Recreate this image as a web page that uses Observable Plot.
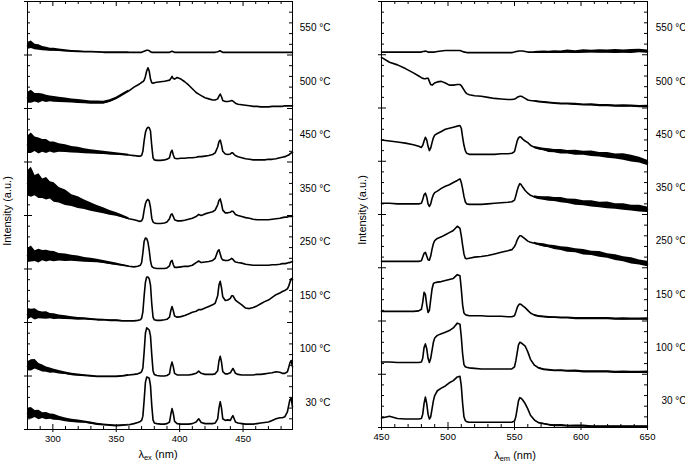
<!DOCTYPE html>
<html><head><meta charset="utf-8">
<script src="https://cdn.jsdelivr.net/npm/d3@7"></script>
<script src="https://cdn.jsdelivr.net/npm/@observablehq/plot@0.6"></script>
<style>
body{margin:0;background:#fff;font-family:"Liberation Sans",Arial,sans-serif;color:#000}
#c{position:relative;width:685px;height:465px;overflow:hidden}
.p{position:absolute;top:0}
.lab{position:absolute;font-size:11px;white-space:nowrap;line-height:1}
.ylab{transform:translate(-50%,-50%) rotate(-90deg)}
.xlab{transform:translate(-50%,-50%)}
sub{font-size:7.5px;vertical-align:-2px}
</style>
</head><body><div id="c"></div>
<script>
// ---- labels ----
const tempLabels = ["30 °C","100 °C","150 °C","250 °C","350 °C","450 °C","500 °C","550 °C"];
// ---- excitation panel (left) ----
const exX = [280,283,286,289,292,295,298,301,305,310,
 315,320,325,330,335,340,345,350,355,360,
 364,367,369,370,371,372,373,374,375,376,
 377,378,379,380,382,385,388,390,392,393,
 394,395,396,398,401,404,407,410,413,415,
 417,420,423,426,428,430,431,432,433,434,
 436,438,440,441,442,443,444,446,449,452,
 455,458,461,464,467,470,473,476,479,481,
 483,485,486,487,488,489];
const exMajor = [300,350,400,450];
const exMinor = [280,290,310,320,330,340,360,370,380,390,410,420,430,440,460,470,480];
const ex30 = [0.30,0.30,0.29,0.27,0.26,0.25,0.24,0.23,0.21,0.18,
 0.16,0.15,0.14,0.12,0.10,0.09,0.08,0.07,0.08,0.09,
 0.11,0.13,0.15,0.17,0.25,0.55,0.88,0.98,0.97,0.96,
 0.82,0.45,0.18,0.12,0.11,0.10,0.10,0.11,0.14,0.28,
 0.39,0.30,0.15,0.11,0.10,0.10,0.10,0.11,0.14,0.20,
 0.13,0.11,0.11,0.11,0.12,0.20,0.40,0.52,0.40,0.20,
 0.17,0.18,0.17,0.22,0.26,0.20,0.14,0.12,0.11,0.10,
 0.10,0.10,0.11,0.12,0.13,0.14,0.17,0.20,0.22,0.22,
 0.24,0.33,0.45,0.56,0.58,0.42];
const ex100 = [0.18,0.20,0.22,0.17,0.14,0.12,0.10,0.09,0.07,0.05,
 0.03,0.02,0.01,0.00,-0.01,-0.01,-0.01,-0.01,0.00,0.02,
 0.03,0.04,0.06,0.08,0.15,0.45,0.80,0.90,0.88,0.86,
 0.75,0.40,0.10,0.03,0.01,0.00,0.00,0.01,0.04,0.18,
 0.26,0.17,0.05,0.02,0.02,0.02,0.02,0.03,0.05,0.09,
 0.05,0.03,0.03,0.03,0.04,0.10,0.28,0.37,0.26,0.08,
 0.04,0.04,0.06,0.10,0.14,0.10,0.05,0.03,0.02,0.02,
 0.02,0.02,0.03,0.03,0.04,0.05,0.06,0.08,0.07,0.05,
 0.05,0.08,0.16,0.25,0.29,0.17];
const ex150 = [0.15,0.17,0.15,0.14,0.13,0.13,0.12,0.11,0.10,0.09,
 0.08,0.07,0.07,0.06,0.05,0.05,0.04,0.04,0.03,0.03,
 0.03,0.04,0.05,0.08,0.20,0.50,0.75,0.85,0.85,0.82,
 0.70,0.35,0.10,0.05,0.04,0.04,0.05,0.06,0.10,0.22,
 0.30,0.22,0.12,0.10,0.11,0.13,0.16,0.19,0.21,0.24,
 0.24,0.27,0.30,0.33,0.36,0.50,0.70,0.77,0.65,0.48,
 0.41,0.42,0.45,0.50,0.50,0.46,0.42,0.38,0.33,0.27,
 0.26,0.28,0.31,0.35,0.39,0.42,0.47,0.52,0.55,0.58,
 0.60,0.63,0.68,0.75,0.82,0.80];
const ex250 = [0.25,0.28,0.24,0.24,0.25,0.24,0.24,0.23,0.22,0.21,
 0.20,0.19,0.17,0.16,0.15,0.13,0.11,0.09,0.07,0.05,
 0.04,0.05,0.07,0.12,0.30,0.52,0.58,0.57,0.50,0.35,
 0.15,0.05,0.03,0.02,0.01,0.01,0.01,0.02,0.06,0.14,
 0.16,0.08,0.03,0.03,0.04,0.05,0.05,0.07,0.12,0.15,
 0.12,0.13,0.14,0.16,0.20,0.33,0.36,0.28,0.20,0.17,
 0.16,0.16,0.18,0.20,0.18,0.15,0.13,0.12,0.11,0.09,
 0.08,0.07,0.07,0.07,0.07,0.07,0.08,0.08,0.09,0.10,
 0.10,0.11,0.12,0.12,0.13,0.14];
const ex350 = [0.60,0.62,0.56,0.55,0.50,0.50,0.47,0.43,0.38,0.33,
 0.28,0.24,0.20,0.16,0.12,0.09,0.05,0.02,-0.02,-0.06,
 -0.08,-0.10,-0.11,-0.10,-0.05,0.10,0.22,0.28,0.30,0.27,
 0.15,-0.05,-0.12,-0.14,-0.15,-0.15,-0.14,-0.12,-0.06,0.01,
 0.03,-0.02,-0.08,-0.10,-0.10,-0.09,-0.07,-0.05,-0.02,0.02,
 0.00,0.03,0.05,0.07,0.10,0.20,0.28,0.31,0.22,0.10,
 0.05,0.05,0.06,0.08,0.08,0.05,0.02,0.00,-0.02,-0.04,
 -0.05,-0.07,-0.08,-0.08,-0.08,-0.08,-0.07,-0.06,-0.05,-0.04,
 -0.03,-0.03,-0.02,-0.02,-0.02,-0.02];
const ex450 = [0.32,0.35,0.33,0.30,0.30,0.29,0.28,0.27,0.26,0.25,
 0.23,0.22,0.20,0.19,0.18,0.17,0.16,0.15,0.14,0.13,
 0.12,0.11,0.11,0.12,0.20,0.40,0.55,0.62,0.65,0.64,
 0.58,0.30,0.08,0.04,0.03,0.03,0.04,0.05,0.08,0.18,
 0.22,0.13,0.07,0.06,0.07,0.07,0.08,0.08,0.09,0.10,
 0.10,0.11,0.12,0.14,0.17,0.28,0.38,0.41,0.32,0.20,
 0.15,0.14,0.15,0.17,0.17,0.14,0.12,0.10,0.08,0.06,
 0.05,0.04,0.04,0.04,0.04,0.05,0.05,0.06,0.08,0.09,
 0.10,0.12,0.13,0.15,0.17,0.18];
const ex500 = [0.20,0.22,0.20,0.19,0.20,0.18,0.18,0.17,0.16,0.15,
 0.14,0.13,0.12,0.11,0.11,0.11,0.14,0.19,0.26,0.33,
 0.40,0.44,0.47,0.49,0.50,0.53,0.60,0.70,0.76,0.70,
 0.55,0.48,0.47,0.48,0.49,0.50,0.51,0.52,0.53,0.56,
 0.60,0.56,0.55,0.58,0.55,0.50,0.44,0.37,0.30,0.27,
 0.24,0.20,0.18,0.16,0.16,0.18,0.23,0.27,0.22,0.15,
 0.13,0.13,0.14,0.15,0.14,0.12,0.10,0.08,0.07,0.06,
 0.05,0.04,0.04,0.03,0.03,0.03,0.04,0.04,0.04,0.04,
 0.05,0.05,0.05,0.05,0.05,0.05];
const ex550 = [0.17,0.19,0.15,0.14,0.12,0.11,0.10,0.10,0.09,0.08,
 0.07,0.065,0.06,0.06,0.055,0.05,0.05,0.05,0.05,0.05,
 0.05,0.05,0.05,0.05,0.06,0.07,0.08,0.09,0.09,0.08,
 0.06,0.05,0.05,0.05,0.05,0.05,0.05,0.05,0.05,0.06,
 0.07,0.06,0.05,0.05,0.05,0.05,0.05,0.05,0.05,0.05,
 0.05,0.05,0.05,0.05,0.05,0.06,0.07,0.08,0.06,0.05,
 0.05,0.05,0.05,0.05,0.05,0.05,0.05,0.05,0.05,0.05,
 0.05,0.05,0.05,0.05,0.05,0.05,0.05,0.05,0.05,0.05,
 0.05,0.05,0.05,0.05,0.05,0.05];
// noise half-widths (280..360 nm, the first 20 points of exX)
const exNoise30  = [0.09,0.11,0.065,0.09,0.055,0.07,0.05,0.055,0.04,0.035,0.03,0.028,0.02,0.02,0.016,0.014,0.012,0.012,0.01,0.008];
const exNoise100 = [0.08,0.105,0.09,0.065,0.065,0.05,0.05,0.036,0.032,0.024,0.02,0.018,0.015,0.012,0.012,0.01,0.01,0.008,0.008,0.008];
const exNoise150 = [0.11,0.08,0.105,0.07,0.065,0.07,0.05,0.052,0.04,0.036,0.028,0.024,0.02,0.016,0.014,0.012,0.01,0.01,0.008,0.008];
const exNoise250 = [0.13,0.15,0.10,0.13,0.095,0.11,0.09,0.095,0.07,0.07,0.055,0.055,0.045,0.04,0.032,0.028,0.024,0.02,0.016,0.012];
const exNoise350 = [0.23,0.28,0.19,0.23,0.18,0.21,0.16,0.18,0.145,0.145,0.11,0.11,0.09,0.08,0.065,0.055,0.045,0.036,0.028,0.02];
const exNoise450 = [0.16,0.19,0.135,0.15,0.12,0.13,0.095,0.105,0.08,0.072,0.06,0.055,0.048,0.04,0.036,0.032,0.028,0.024,0.02,0.016];
const exNoise500 = [0.10,0.12,0.08,0.09,0.07,0.07,0.055,0.055,0.048,0.044,0.036,0.036,0.032,0.028,0.028,0.024,0.024,0.02,0.02,0.016];
const exNoise550 = [0.065,0.07,0.05,0.05,0.04,0.036,0.028,0.028,0.024,0.02,0.016,0.016,0.012,0.012,0.01,0.008,0.008,0.008,0.008,0.008];

// ---- emission panel (right) ----
const emX = [450,456,462,468,474,478,480,481,482,483,
 484,485,486,487,488,489,490,492,495,498,
 501,504,507,509,510,511,512,513,514,516,
 520,525,530,535,540,545,548,550,551,552,
 553,554,555,556,558,560,562,565,568,572,
 576,580,585,590,596,602,608,614,620,626,
 632,638,644,650];
const emMajor = [450,500,550,600,650];
const emMinor = [460,470,480,490,510,520,530,540,560,570,580,590,610,620,630,640];
const em30 = [0.18,0.21,0.17,0.16,0.16,0.16,0.17,0.25,0.45,0.57,
 0.45,0.25,0.16,0.20,0.35,0.50,0.60,0.69,0.74,0.78,
 0.84,0.88,0.95,0.96,0.78,0.45,0.20,0.13,0.11,0.10,
 0.10,0.10,0.10,0.10,0.10,0.10,0.10,0.12,0.20,0.35,
 0.50,0.56,0.55,0.52,0.45,0.35,0.23,0.14,0.09,0.07,
 0.05,0.04,0.04,0.03,0.03,0.03,0.02,0.02,0.02,0.02,
 0.02,0.02,0.02,0.02];
const em100 = [0.23,0.23,0.22,0.22,0.22,0.22,0.23,0.30,0.50,0.57,
 0.48,0.30,0.22,0.30,0.45,0.60,0.68,0.73,0.76,0.79,
 0.82,0.87,0.96,0.94,0.70,0.38,0.18,0.14,0.13,0.12,
 0.11,0.10,0.10,0.10,0.10,0.10,0.10,0.14,0.25,0.40,
 0.55,0.60,0.59,0.57,0.53,0.42,0.28,0.17,0.12,0.09,
 0.08,0.07,0.07,0.06,0.06,0.05,0.05,0.05,0.05,0.04,
 0.04,0.04,0.04,0.04];
const em150 = [0.18,0.18,0.18,0.18,0.18,0.19,0.22,0.35,0.54,0.50,
 0.30,0.16,0.20,0.40,0.60,0.70,0.72,0.73,0.74,0.76,
 0.78,0.80,0.87,0.85,0.60,0.30,0.15,0.12,0.11,0.10,
 0.10,0.10,0.09,0.09,0.09,0.08,0.08,0.10,0.17,0.25,
 0.30,0.32,0.31,0.29,0.25,0.20,0.15,0.11,0.09,0.08,
 0.07,0.07,0.06,0.06,0.05,0.05,0.05,0.05,0.05,0.04,
 0.04,0.04,0.04,0.04];
const em250 = [0.12,0.12,0.12,0.12,0.12,0.12,0.13,0.20,0.27,0.29,
 0.22,0.15,0.14,0.22,0.35,0.45,0.51,0.55,0.58,0.62,
 0.66,0.70,0.78,0.74,0.60,0.42,0.26,0.18,0.17,0.18,
 0.20,0.21,0.23,0.26,0.29,0.32,0.34,0.40,0.45,0.52,
 0.57,0.60,0.60,0.58,0.54,0.50,0.48,0.46,0.44,0.42,
 0.40,0.38,0.36,0.34,0.32,0.29,0.27,0.25,0.22,0.19,
 0.16,0.13,0.10,0.07];
const em350 = [0.21,0.21,0.20,0.20,0.20,0.20,0.21,0.28,0.37,0.40,
 0.33,0.20,0.15,0.20,0.30,0.37,0.41,0.44,0.49,0.53,
 0.56,0.60,0.64,0.67,0.60,0.48,0.34,0.24,0.20,0.19,
 0.19,0.19,0.20,0.21,0.22,0.23,0.24,0.27,0.35,0.45,
 0.53,0.58,0.56,0.52,0.45,0.40,0.36,0.33,0.31,0.30,
 0.29,0.28,0.27,0.25,0.23,0.21,0.20,0.18,0.17,0.15,
 0.14,0.12,0.11,0.09];
const em450 = [0.40,0.38,0.36,0.34,0.31,0.28,0.26,0.30,0.38,0.45,
 0.40,0.28,0.20,0.25,0.35,0.44,0.49,0.52,0.56,0.60,
 0.62,0.64,0.66,0.67,0.62,0.45,0.30,0.20,0.15,0.13,
 0.13,0.13,0.13,0.13,0.14,0.14,0.15,0.18,0.28,0.38,
 0.44,0.46,0.45,0.42,0.38,0.35,0.30,0.26,0.24,0.22,
 0.20,0.19,0.18,0.17,0.16,0.15,0.14,0.12,0.11,0.09,
 0.08,0.05,0.02,-0.03];
const em500 = [0.95,0.86,0.81,0.74,0.66,0.60,0.57,0.56,0.55,0.55,
 0.56,0.56,0.50,0.44,0.43,0.45,0.47,0.49,0.50,0.47,
 0.43,0.43,0.44,0.44,0.42,0.38,0.34,0.30,0.27,0.25,
 0.23,0.22,0.20,0.18,0.17,0.16,0.16,0.17,0.18,0.20,
 0.21,0.22,0.22,0.21,0.18,0.15,0.14,0.13,0.12,0.11,
 0.10,0.09,0.08,0.08,0.07,0.06,0.06,0.05,0.05,0.04,
 0.04,0.04,0.03,0.03];
const em550 = [0.05,0.05,0.05,0.05,0.05,0.05,0.05,0.06,0.06,0.07,
 0.06,0.05,0.05,0.05,0.05,0.05,0.05,0.06,0.07,0.08,
 0.08,0.08,0.08,0.08,0.07,0.06,0.05,0.05,0.04,0.04,
 0.04,0.04,0.04,0.04,0.04,0.04,0.04,0.05,0.06,0.06,
 0.07,0.07,0.07,0.07,0.06,0.05,0.05,0.05,0.05,0.05,
 0.05,0.05,0.05,0.06,0.05,0.06,0.06,0.06,0.06,0.06,
 0.06,0.06,0.07,0.06];
// noise half-widths from 565 nm to 650 nm (last 17 points of emX)
const emNoiseStart = 565;
const emNoise30  = [0.01,0.01,0.012,0.012,0.012,0.015,0.012,0.015,0.015,0.012,0.015,0.015,0.012,0.015,0.015,0.012,0.015];
const emNoise100 = [0.01,0.012,0.012,0.015,0.012,0.015,0.015,0.018,0.015,0.018,0.015,0.018,0.015,0.02,0.015,0.018,0.02];
const emNoise150 = [0.01,0.012,0.012,0.015,0.012,0.015,0.015,0.018,0.015,0.018,0.015,0.018,0.015,0.02,0.015,0.018,0.02];
const emNoise250 = [0.017,0.021,0.03,0.025,0.038,0.034,0.047,0.038,0.051,0.042,0.055,0.042,0.055,0.047,0.06,0.047,0.051];
const emNoise350 = [0.021,0.03,0.034,0.042,0.038,0.051,0.042,0.055,0.047,0.06,0.051,0.064,0.051,0.06,0.055,0.064,0.051];
const emNoise450 = [0.017,0.025,0.025,0.034,0.03,0.042,0.034,0.047,0.038,0.051,0.042,0.055,0.047,0.06,0.064,0.055,0.051];
const emNoise500 = [0.01,0.012,0.012,0.015,0.012,0.015,0.015,0.018,0.015,0.018,0.015,0.018,0.015,0.02,0.015,0.018,0.02];
const emNoise550 = [0.013,0.017,0.021,0.017,0.025,0.021,0.03,0.025,0.034,0.025,0.034,0.03,0.038,0.03,0.038,0.034,0.03];

const H = 465;
function panel(cfg) {
  const {x, series, noise, noiseFrom, domain, major, minor, width, ml, mr, mt, mb, labelDx} = cfg;
  const innerH = H - mt - mb, innerW = width - ml - mr;
  const start = x.indexOf(noiseFrom);
  const lineRows = [], areaRows = [];
  series.forEach((vals, i) => {
    if (vals.length !== x.length) throw new Error("length mismatch in series " + i + ": " + vals.length);
    vals.forEach((v, j) => lineRows.push({x: x[j], y: i + v, k: i}));
    noise[i].forEach((w, j) => {
      const v = vals[start + j];
      areaRows.push({x: x[start + j], y1: i + v - w, y2: i + v + w, k: i});
    });
  });
  const yMajor = d3.range(0, 9);
  const yMinor = d3.range(0, 40).map(d => d / 5).filter(d => d % 1 !== 0);
  return Plot.plot({
    width, height: H, marginTop: mt, marginBottom: mb, marginLeft: ml, marginRight: mr,
    x: {domain, axis: null},
    y: {domain: [0, 8], axis: null},
    style: {fontFamily: "'Liberation Sans', Arial, sans-serif", fontSize: "10px", background: "transparent", overflow: "visible", color: "#000"},
    marks: [
      Plot.areaY(areaRows, {x: "x", y1: "y1", y2: "y2", z: "k", fill: "#000"}),
      Plot.line(lineRows, {x: "x", y: "y", z: "k", stroke: "#000", strokeWidth: 1.6}),
      Plot.frame({stroke: "#000", strokeWidth: 1}),
      Plot.ruleX(minor, {insetTop: innerH - 3, stroke: "#000"}),
      Plot.ruleX(minor, {insetBottom: innerH - 3, stroke: "#000"}),
      Plot.ruleX(major, {insetTop: innerH - 5, insetBottom: -3, stroke: "#000"}),
      Plot.ruleX(major, {insetBottom: innerH - 5, stroke: "#000"}),
      Plot.ruleY(yMinor, {insetRight: innerW - 3, stroke: "#000"}),
      Plot.ruleY(yMinor, {insetLeft: innerW - 3, stroke: "#000"}),
      Plot.ruleY(yMajor, {insetRight: innerW - 5, insetLeft: -3, stroke: "#000"}),
      Plot.ruleY(yMajor, {insetLeft: innerW - 5, stroke: "#000"}),
      Plot.axisX(major, {tickSize: 0, tickPadding: 6, fontSize: 9.5, label: null}),
      Plot.text(tempLabels, {y: (d, i) => i + 0.5, text: d => d, frameAnchor: "right", textAnchor: "end", dx: labelDx, fontSize: 10})
    ]
  });
}

const c = document.getElementById("c");
const left = panel({
  x: exX, series: [ex30, ex100, ex150, ex250, ex350, ex450, ex500, ex550],
  noise: [exNoise30, exNoise100, exNoise150, exNoise250, exNoise350, exNoise450, exNoise500, exNoise550],
  noiseFrom: 280, domain: [280, 489], major: exMajor, minor: exMinor,
  width: 342, ml: 27, mr: 50, mt: 1, mb: 36, labelDx: 38
});
const right = panel({
  x: emX, series: [em30, em100, em150, em250, em350, em450, em500, em550],
  noise: [emNoise30, emNoise100, emNoise150, emNoise250, emNoise350, emNoise450, emNoise500, emNoise550],
  noiseFrom: emNoiseStart, domain: [450, 650], major: emMajor, minor: emMinor,
  width: 343, ml: 39, mr: 38, mt: 1, mb: 38, labelDx: 39
});
const d1 = document.createElement("div"); d1.className = "p"; d1.style.left = "0px"; d1.appendChild(left); c.appendChild(d1);
const d2 = document.createElement("div"); d2.className = "p"; d2.style.left = "342px"; d2.appendChild(right); c.appendChild(d2);

function addLabel(html, x, y, cls) {
  const el = document.createElement("div");
  el.className = "lab " + cls; el.innerHTML = html;
  el.style.left = x + "px"; el.style.top = y + "px";
  c.appendChild(el);
}
addLabel("Intensity (a.u.)", 7, 211, "ylab");
addLabel("Intensity (a.u.)", 362, 210, "ylab");
addLabel("λ<sub>ex</sub> (nm)", 158, 455, "xlab");
addLabel("λ<sub>em</sub> (nm)", 515, 456, "xlab");
</script></body></html>
